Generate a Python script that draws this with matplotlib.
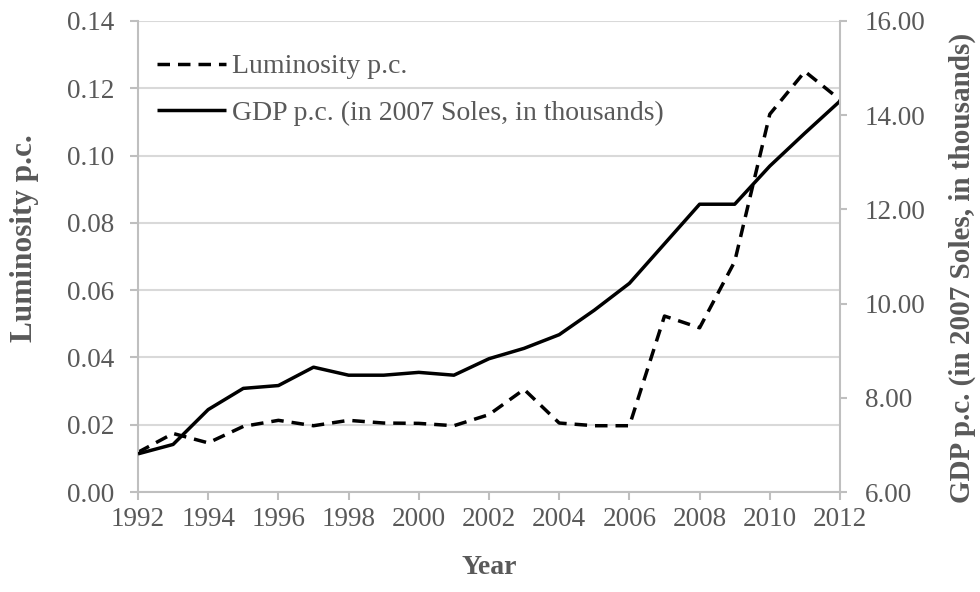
import matplotlib
matplotlib.use("Agg")
import matplotlib.pyplot as plt
from matplotlib.ticker import FormatStrFormatter

# data
years = list(range(1992, 2013))
luminosity = [0.0118, 0.0174, 0.0146, 0.0195, 0.0213, 0.0197, 0.0213, 0.0205,
              0.0204, 0.0197, 0.0230, 0.0305, 0.0205, 0.0197, 0.0197, 0.0523,
              0.0488, 0.0685, 0.1123, 0.1250, 0.1166]
gdp = [6.81, 7.01, 7.75, 8.20, 8.26, 8.65, 8.48, 8.48, 8.54, 8.48, 8.83,
       9.05, 9.34, 9.86, 10.43, 11.27, 12.11, 12.11, 12.92, 13.62, 14.30]
x_ticks = list(range(1992, 2013, 2))
lum_ticks = [0.00, 0.02, 0.04, 0.06, 0.08, 0.10, 0.12, 0.14]
gdp_ticks = [6.0, 8.0, 10.0, 12.0, 14.0, 16.0]

plt.rcParams['font.family'] = ['Liberation Serif', 'DejaVu Serif']
txt_col = '#595959'
axis_col = '#bfbfbf'
grid_col = '#d9d9d9'
fs = 19.5

fig = plt.figure(figsize=(9.8, 5.92), dpi=100)
ax = fig.add_axes([138/980., 1 - 492/592., 702/980., 471/592.])
ax2 = ax.twinx()

l1, = ax.plot(years, luminosity, color='black', lw=2.5, linestyle=(0, (3.6, 2.3)),
              dash_capstyle='butt', label='Luminosity p.c.')
l2, = ax2.plot(years, gdp, color='black', lw=2.5, solid_capstyle='butt',
               label='GDP p.c. (in 2007 Soles, in thousands)')

ax.set_xlim(1992, 2012)
ax.set_ylim(0, 0.14)
ax2.set_ylim(6, 16)
ax.set_xticks(x_ticks)
ax.set_yticks(lum_ticks)
ax2.set_yticks(gdp_ticks)
ax.yaxis.set_major_formatter(FormatStrFormatter('%.2f'))
ax2.yaxis.set_major_formatter(FormatStrFormatter('%.2f'))

ax.grid(axis='y', color=grid_col, lw=1.5)
ax.set_axisbelow(True)

for a in (ax, ax2):
    for s in a.spines.values():
        s.set_color(axis_col)
        s.set_linewidth(1.5)
    a.spines['top'].set_visible(False)
ax.spines['right'].set_visible(False)
ax2.spines['left'].set_visible(False)
ax2.spines['bottom'].set_visible(False)

ax.tick_params(axis='x', direction='out', length=6, width=1.5, color=axis_col,
               labelsize=fs, labelcolor=txt_col, pad=5)
ax.tick_params(axis='y', direction='out', length=6, width=1.5, color=axis_col,
               labelsize=fs, labelcolor=txt_col, pad=11)
ax2.tick_params(axis='y', direction='out', length=5, width=1.5, color=axis_col,
                labelsize=fs, labelcolor=txt_col, pad=13)

ax.set_xlabel('Year', fontsize=20, fontweight='bold', color=txt_col)
ax.set_ylabel('Luminosity p.c.', fontsize=22.5, fontweight='bold', color=txt_col)
ax2.set_ylabel('GDP p.c. (in 2007 Soles, in thousands)', fontsize=21,
               fontweight='bold', color=txt_col)
ax.xaxis.set_label_coords(0.5, -0.161)
ax.yaxis.set_label_coords(-0.161, 0.54)
ax2.yaxis.set_label_coords(1.174, 0.476)
ax.xaxis.label.set_va('center')
ax.yaxis.label.set_va('center')
ax2.yaxis.label.set_va('center')

leg = ax2.legend(handles=[l1, l2], loc='upper left', bbox_to_anchor=(0.027, 0.93),
                 frameon=False, fontsize=20, handlelength=2.5, handletextpad=0.2,
                 labelspacing=0.75, borderpad=0, borderaxespad=0)
for t in leg.get_texts():
    t.set_color(txt_col)

fig.savefig('out.png', dpi=100)
